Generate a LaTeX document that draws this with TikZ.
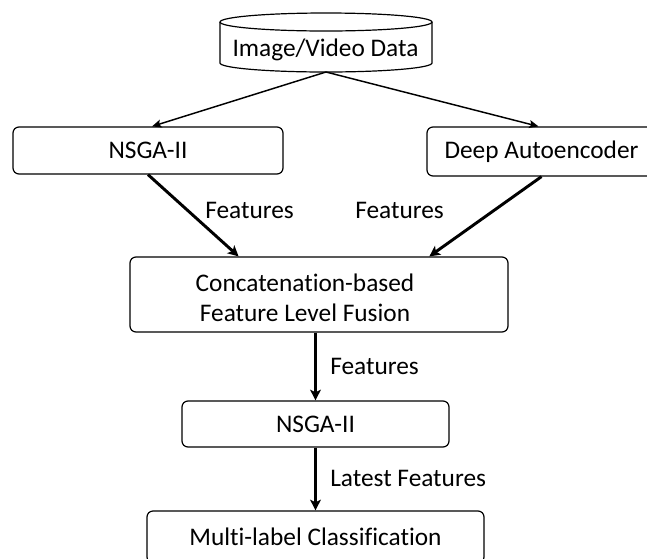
\documentclass[tikz,border=0pt]{standalone}
\usepackage{fontspec}
\setmainfont{Carlito}[Ligatures=NoCommon]
\usetikzlibrary{arrows.meta,calc}
\begin{document}
\begin{tikzpicture}[x=0.75pt,y=-0.75pt,
  every node/.style={font=\fontsize{19}{22.5}\selectfont},
  procbox/.style={draw,rounded corners=4.5pt,line width=0.9pt,inner sep=0pt,align=center},
  thinarrow/.style={line width=1.1pt,-{Stealth[length=7pt,width=6pt,inset=1.5pt]}},
  thickarrow/.style={line width=2.2pt,-{Stealth[length=8pt,width=8pt,inset=2pt]}},
  lbl/.style={anchor=base west,inner sep=0pt}]
\useasboundingbox (0,0) rectangle (647,558);
\clip (0,0) rectangle (647,558);
\fill[white] (0,0) rectangle (647,558);

% data store drawn as a cylinder
\draw[line width=0.9pt] (326,22) ellipse [x radius=79.5pt, y radius=6.75pt];
\draw[line width=0.9pt] (220,22) -- (220,63)
  arc[start angle=180, end angle=360, x radius=79.5pt, y radius=6.75pt] -- (432,22);
\node[inner sep=0pt,anchor=base] (data) at (325.5,56) {Image/Video Data};
\coordinate (src) at (326,72);

% processing stages
\node[procbox,minimum width=202.5pt,minimum height=35.25pt] (nsgaA) at (148,150.5) {NSGA-II};
\node[procbox,minimum width=171.75pt,minimum height=36.75pt] (dae) at (541.5,151.5) {Deep Autoencoder};
\node[procbox,minimum width=283.5pt,minimum height=56.25pt] (fuse) at (319,294.5) {};
\node[align=center,inner sep=0pt] (fusetext) at (305,298) {Concatenation-based\\Feature Level Fusion};
\node[procbox,minimum width=200.25pt,minimum height=34.5pt] (nsgaB) at (315.5,424) {NSGA-II};
\node[procbox,minimum width=252.75pt,minimum height=39pt] (mlc) at (315.5,537) {Multi-label Classification};

% connectors
\draw[thinarrow] (src) -- ($(nsgaA.north)+(4,0)$);
\draw[thinarrow] (src) -- ($(dae.north)+(-3,0)$);
\draw[thickarrow] (nsgaA.south) -- ($(fuse.north west)!0.288!(fuse.north east)$);
\draw[thickarrow] (dae.south) -- ($(fuse.north west)!0.791!(fuse.north east)$);
\draw[thickarrow] (fuse.south -| nsgaB.north) -- (nsgaB.north);
\draw[thickarrow] (nsgaB.south) -- (mlc.north);

% connector labels
\node[lbl] (featA) at (205,218) {Features};
\node[lbl] (featB) at (355,218) {Features};
\node[lbl] (featC) at (330,374) {Features};
\node[lbl] (featD) at (330,486) {Latest Features};
\end{tikzpicture}
\end{document}
